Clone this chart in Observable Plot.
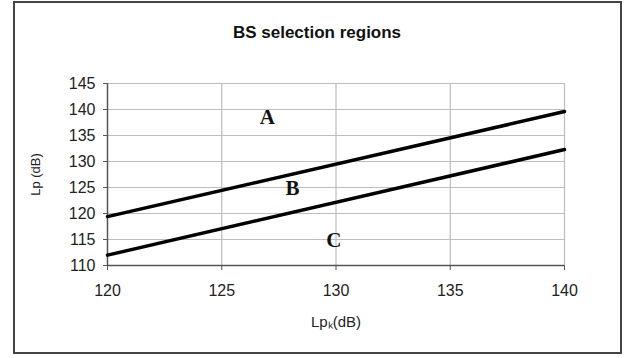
<!DOCTYPE html>
<html>
<head>
<meta charset="utf-8">
<script src="https://cdn.jsdelivr.net/npm/d3@7"></script>
<script src="https://cdn.jsdelivr.net/npm/@observablehq/plot@0.6"></script>
<style>
  html, body { margin: 0; padding: 0; background: #fff; }
  #wrap { position: relative; width: 630px; height: 358px; }
  #border { position: absolute; left: 13px; top: 1px; width: 605px; height: 349px; border: 2px solid #444; pointer-events: none; }
</style>
</head>
<body>
<div id="wrap"><div id="border"></div></div>
<script>
const title = "BS selection regions";
const xLabel = "Lpₖ(dB)";
const yLabel = "Lp (dB)";
const xEnds = [120, 140];
const upperLine = [119.4, 139.6];
const lowerLine = [112, 132.3];
const regionNames = ["A", "B", "C"];
const regionX = [127, 128.1, 129.9];
const regionY = [138.5, 124.8, 114.8];
const xTicks = [120, 125, 130, 135, 140];
const yTicks = [110, 115, 120, 125, 130, 135, 140, 145];

const lines = [
  ...xEnds.map((x, i) => ({x, y: upperLine[i], s: "upper"})),
  ...xEnds.map((x, i) => ({x, y: lowerLine[i], s: "lower"}))
];
const regions = regionNames.map((n, i) => ({n, x: regionX[i], y: regionY[i]}));

const chart = Plot.plot({
  width: 630,
  height: 358,
  marginLeft: 107,
  marginRight: 66,
  marginTop: 83,
  marginBottom: 93,
  style: {fontFamily: "Liberation Sans, Arial, sans-serif", fontSize: "15px", color: "#222", background: "transparent"},
  x: {domain: [120, 140], ticks: xTicks},
  y: {domain: [110, 145], ticks: yTicks},
  marks: [
    Plot.gridY(yTicks, {stroke: "#bdbdbd", strokeOpacity: 1, strokeWidth: 1.2}),
    Plot.gridX(xTicks.slice(1), {stroke: "#bdbdbd", strokeOpacity: 1, strokeWidth: 1.2}),
    Plot.axisX({ticks: xTicks, tickSize: 5, tickPadding: 14, stroke: "#555", fontSize: 16, label: null}),
    Plot.axisY({ticks: yTicks, tickSize: 4, tickPadding: 8, stroke: "#555", fontSize: 16, label: null}),
    Plot.text([xLabel], {frameAnchor: "bottom", dy: 61, fontSize: 15, fill: "#222"}),
    Plot.text([yLabel], {frameAnchor: "left", dx: -72, rotate: -90, textAnchor: "middle", fontSize: 13, fill: "#222"}),
    Plot.ruleY([110], {stroke: "#555", strokeWidth: 1.5}),
    Plot.ruleX([120], {stroke: "#555", strokeWidth: 1.5}),
    Plot.line(lines, {x: "x", y: "y", z: "s", stroke: "#000", strokeWidth: 3.5}),
    Plot.text(regions, {x: "x", y: "y", text: "n", fontFamily: "Liberation Serif, Times New Roman, serif", fontWeight: "bold", fontSize: 21, fill: "#111"}),
    Plot.text([title], {frameAnchor: "top", dy: -58, fontWeight: "bold", fontSize: 17, fill: "#111", dx: -19})
  ]
});
document.getElementById("wrap").prepend(chart);
</script>
</body>
</html>
